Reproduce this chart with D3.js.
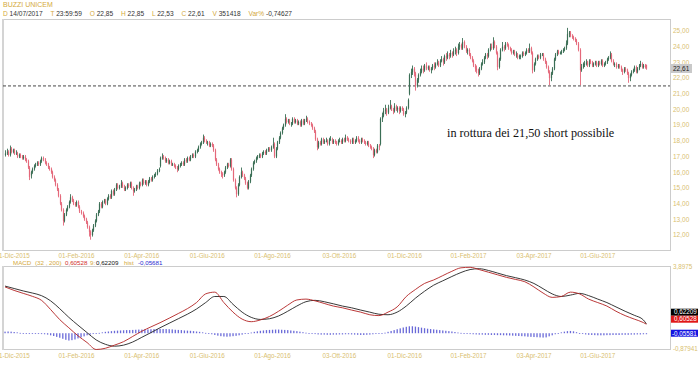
<!DOCTYPE html>
<html><head><meta charset="utf-8">
<script src="https://cdnjs.cloudflare.com/ajax/libs/d3/7.8.5/d3.min.js"></script>
<style>body{margin:0;background:#fff}svg{display:block;font-family:"Liberation Sans",Arial,sans-serif}</style>
</head><body><svg id="c" width="700" height="365"></svg>
<script>
const tickIndex=[5,47,90,133,176,220,263,305,348,390];
const tickLabels=["01-Dic-2015","01-Feb-2016","01-Apr-2016","01-Giu-2016","01-Ago-2016","03-Ott-2016","01-Dic-2016","01-Feb-2017","03-Apr-2017","01-Giu-2017"];
const priceTicks=[12,13,14,15,16,17,18,19,20,21,22,23,24,25];
const lastPrice=22.61, breakLevel=21.5;
const open=[17.1,17.2,17.3,17.1,17.5,17.3,17.4,17.2,17.2,17.0,
17.1,17.0,16.9,17.0,16.8,16.7,16.3,15.8,16.0,16.2,
16.4,16.5,16.6,16.5,16.7,16.9,16.8,16.6,16.5,16.3,
16.2,16.0,15.7,15.5,15.2,14.9,14.5,14.0,13.6,12.9,
13.3,13.6,13.8,14.1,14.4,14.2,14.0,13.9,14.1,13.8,
13.5,13.4,13.2,13.0,12.8,12.5,12.2,12.0,12.3,12.6,
12.9,13.3,13.5,14.0,13.8,14.1,14.2,14.0,14.3,14.5,
14.4,14.8,14.6,14.9,15.2,15.0,15.1,15.3,15.1,14.9,
15.0,15.2,15.1,15.3,15.0,14.8,14.9,15.1,15.0,15.3,
15.2,15.5,15.3,15.4,15.2,15.4,15.6,15.5,15.7,15.8,
15.9,16.1,16.4,16.9,17.0,16.9,16.7,16.8,16.6,16.7,
16.5,16.5,16.4,16.3,16.2,16.4,16.5,16.6,16.5,16.8,
16.7,16.9,16.8,17.0,17.1,17.0,17.3,17.4,17.6,17.8,
17.9,18.2,18.0,17.9,17.9,17.7,17.8,17.7,17.4,16.8,
16.5,16.2,16.0,15.9,15.8,16.0,16.3,16.5,16.4,16.8,
16.2,15.5,15.0,14.6,15.2,15.7,16.0,15.8,15.6,15.3,
15.0,15.4,15.8,16.2,16.6,16.7,16.9,17.0,17.1,17.0,
17.2,17.3,17.2,17.4,17.5,17.4,17.6,17.8,17.0,17.5,
17.9,18.2,18.5,18.8,19.0,19.4,19.2,19.3,19.1,19.1,
19.4,19.2,19.3,19.1,19.2,19.0,19.3,19.1,19.3,19.4,
19.2,19.1,19.0,18.8,18.6,18.1,17.6,17.9,17.8,18.1,
17.9,18.0,18.0,17.8,18.1,18.1,17.9,18.0,17.9,17.8,
18.0,18.0,17.9,18.1,18.0,18.2,18.1,18.0,17.9,18.1,
17.9,18.0,18.2,18.0,17.9,18.1,18.0,17.9,17.8,17.9,
17.7,17.6,17.5,17.1,17.4,17.3,17.7,17.8,19.4,19.6,
19.9,20.0,19.8,20.1,20.2,20.0,19.9,20.2,20.0,20.1,
19.9,20.1,20.0,19.7,19.8,20.1,21.0,22.2,22.4,22.6,
22.3,21.5,21.9,22.2,22.4,22.6,22.5,22.8,22.6,22.7,
22.5,22.6,22.8,22.7,22.9,23.0,22.8,23.1,23.2,23.0,
23.4,23.3,23.5,23.4,23.6,23.5,23.7,23.8,23.6,24.0,
24.1,23.9,24.3,24.0,23.7,23.8,23.5,23.3,23.1,22.8,
22.6,22.5,22.3,22.6,22.9,23.0,23.3,23.5,23.4,23.8,
24.0,23.9,24.3,24.0,23.6,22.7,23.2,23.8,24.0,23.9,
24.2,24.1,23.9,23.8,23.6,23.7,23.5,23.5,23.3,23.4,
23.4,23.6,23.5,23.6,23.8,23.7,23.9,23.6,22.5,22.9,
23.2,23.4,23.3,23.5,23.5,23.2,23.0,22.7,22.4,22.0,
22.3,22.6,23.2,23.5,23.7,23.6,23.6,23.7,23.8,23.9,
24.2,24.8,24.9,24.7,24.6,24.5,24.4,24.2,23.8,22.5,
22.7,22.9,22.9,23.0,22.8,23.1,23.0,22.8,22.9,23.0,
22.8,23.0,22.9,23.1,22.8,22.9,23.0,23.2,23.3,23.5,
23.1,22.9,22.9,22.7,22.8,22.7,22.5,22.4,22.6,22.5,
22.3,22.0,22.2,22.4,22.5,22.7,22.4,22.6,22.8,22.9,
22.7,22.8,22.85];
const high=[17.4,17.5,17.4,17.7,17.6,17.5,17.5,17.4,17.3,17.2,
17.2,17.1,17.1,17.1,16.9,16.8,16.4,16.1,16.3,16.5,
16.6,16.7,16.7,16.8,17.0,17.0,16.9,16.7,16.6,16.4,
16.3,16.1,15.8,15.6,15.3,15.0,14.6,14.1,13.7,13.4,
13.7,13.9,14.2,14.6,14.5,14.3,14.1,14.2,14.2,13.9,
13.6,13.5,13.3,13.1,12.9,12.6,12.3,12.4,12.7,13.0,
13.4,13.6,14.1,14.1,14.2,14.3,14.3,14.4,14.6,14.6,
14.9,14.9,15.0,15.3,15.3,15.2,15.5,15.4,15.2,15.1,
15.3,15.3,15.4,15.4,15.1,15.0,15.2,15.2,15.4,15.4,
15.6,15.6,15.5,15.5,15.5,15.7,15.7,15.8,15.9,16.0,
16.2,16.3,17.0,17.2,17.1,17.0,16.9,16.9,16.8,16.8,
16.6,16.6,16.5,16.4,16.5,16.6,16.7,16.7,16.9,16.9,
17.0,17.0,17.1,17.2,17.2,17.4,17.5,17.7,17.9,18.0,
18.4,18.3,18.1,18.0,18.0,17.9,17.9,17.8,17.5,16.9,
16.6,16.3,16.1,16.0,16.1,16.4,16.6,16.6,16.9,16.9,
16.3,15.6,15.1,15.3,15.8,16.3,16.1,15.9,15.7,15.4,
15.5,15.9,16.3,16.7,16.8,17.0,17.1,17.2,17.2,17.3,
17.4,17.4,17.5,17.6,17.6,17.7,18.2,17.9,17.6,18.0,
18.3,18.6,18.9,19.1,19.7,19.5,19.4,19.4,19.2,19.5,
19.5,19.4,19.4,19.3,19.3,19.4,19.4,19.4,19.6,19.5,
19.3,19.2,19.1,18.9,18.7,18.2,18.0,18.0,18.2,18.2,
18.1,18.2,18.1,18.2,18.3,18.2,18.1,18.1,18.0,18.1,
18.2,18.1,18.2,18.2,18.4,18.3,18.2,18.1,18.2,18.2,
18.1,18.3,18.3,18.1,18.2,18.2,18.1,18.0,18.0,18.0,
17.8,17.7,17.6,17.5,17.5,17.8,17.8,19.5,19.8,20.1,
20.3,20.1,20.3,20.6,20.3,20.1,20.4,20.3,20.2,20.2,
20.2,20.2,20.1,19.9,20.2,20.7,22.3,22.6,22.8,22.7,
22.4,22.0,22.3,22.6,22.8,22.8,22.9,23.0,22.8,22.8,
22.7,22.9,23.0,23.0,23.2,23.1,23.2,23.4,23.3,23.5,
23.6,23.7,23.6,23.8,23.7,23.9,24.0,23.9,24.2,24.3,
24.2,24.55,24.4,24.1,23.9,23.9,23.6,23.4,23.2,22.9,
22.8,22.6,22.7,23.0,23.2,23.4,23.6,23.6,23.9,24.2,
24.2,24.6,24.4,24.1,23.7,23.3,23.9,24.3,24.1,24.3,
24.3,24.2,24.0,23.9,23.8,23.8,23.7,23.6,23.5,23.5,
23.7,23.7,23.7,23.9,23.9,24.2,24.0,23.7,23.0,23.3,
23.5,23.5,23.6,23.6,23.6,23.3,23.1,22.8,22.5,22.4,
22.7,23.3,23.6,23.8,23.8,23.7,23.8,23.9,24.0,24.4,
25.2,25.0,25.0,24.8,24.7,24.6,24.5,24.3,23.9,22.9,
23.0,23.1,23.2,23.1,23.2,23.2,23.1,23.0,23.1,23.1,
23.1,23.1,23.2,23.2,23.0,23.1,23.3,23.4,23.7,23.6,
23.2,23.0,23.0,22.9,22.9,22.8,22.6,22.7,22.7,22.6,
22.4,22.3,22.5,22.6,22.8,22.8,22.7,22.9,23.1,23.0,
22.9,22.9,22.85];
const low=[17.0,17.1,17.0,17.0,17.2,17.2,17.1,17.1,16.9,16.9,
16.9,16.8,16.8,16.7,16.6,16.2,15.5,15.6,15.9,16.1,
16.3,16.4,16.4,16.4,16.6,16.7,16.5,16.4,16.2,16.1,
15.9,15.6,15.4,15.1,14.8,14.4,13.9,13.5,12.6,12.8,
13.2,13.5,13.7,14.0,14.1,13.9,13.8,13.8,13.7,13.4,
13.3,13.1,12.9,12.7,12.4,11.9,11.7,11.9,12.2,12.5,
12.8,13.2,13.4,13.7,13.7,14.0,13.9,13.9,14.2,14.3,
14.3,14.5,14.5,14.8,14.9,14.9,15.0,15.0,14.8,14.8,
14.9,15.0,15.0,14.9,14.5,14.7,14.8,14.9,14.9,15.1,
15.1,15.2,15.2,15.1,15.1,15.3,15.4,15.4,15.6,15.7,
15.8,16.0,16.3,16.8,16.8,16.6,16.6,16.5,16.5,16.4,
16.4,16.3,16.2,16.0,16.1,16.3,16.4,16.4,16.4,16.6,
16.6,16.7,16.7,16.9,16.9,16.9,17.2,17.3,17.5,17.7,
17.8,17.9,17.8,17.7,17.6,17.6,17.6,17.3,16.7,16.4,
16.1,15.9,15.7,15.6,15.7,15.9,16.2,16.3,16.3,16.1,
15.4,14.9,14.4,14.5,15.1,15.6,15.7,15.5,15.2,14.9,
14.9,15.3,15.7,16.1,16.5,16.6,16.8,16.9,16.9,16.9,
17.1,17.1,17.1,17.3,17.3,17.3,17.5,16.9,16.9,17.4,
17.8,18.1,18.4,18.7,18.9,19.1,19.1,19.0,18.9,19.0,
19.1,19.1,19.0,19.0,18.9,18.9,19.0,19.0,19.2,19.1,
19.0,18.9,18.7,18.5,18.0,17.4,17.5,17.7,17.7,17.8,
17.8,17.9,17.7,17.7,18.0,17.8,17.8,17.8,17.7,17.7,
17.9,17.8,17.8,17.9,17.9,18.0,17.9,17.8,17.8,17.8,
17.8,17.9,17.9,17.8,17.8,17.9,17.8,17.7,17.7,17.6,
17.5,17.4,16.9,17.0,17.2,17.2,17.4,17.7,19.2,19.5,
19.7,19.6,19.7,20.0,19.9,19.7,19.8,19.9,19.8,19.7,
19.8,19.9,19.6,19.5,19.7,20.0,20.9,22.0,22.2,22.1,
21.2,21.4,21.7,22.1,22.3,22.3,22.4,22.5,22.5,22.4,
22.3,22.5,22.5,22.6,22.8,22.7,22.7,23.0,22.8,22.9,
23.1,23.2,23.2,23.3,23.3,23.4,23.5,23.4,23.5,23.8,
23.8,23.8,23.9,23.6,23.5,23.4,23.2,23.0,22.7,22.4,
22.3,22.1,22.2,22.5,22.8,22.9,23.2,23.2,23.3,23.7,
23.8,23.8,23.9,23.5,22.5,22.6,23.1,23.7,23.7,23.8,
24.0,23.8,23.7,23.5,23.5,23.4,23.3,23.2,23.2,23.2,
23.3,23.4,23.4,23.5,23.6,23.6,23.5,22.3,22.4,22.8,
23.1,23.2,23.2,23.4,23.1,22.9,22.6,22.3,21.55,21.8,
22.2,22.5,23.1,23.4,23.5,23.5,23.5,23.6,23.7,23.8,
24.1,24.6,24.6,24.5,24.4,24.3,24.1,23.7,21.55,22.4,
22.6,22.7,22.8,22.7,22.7,22.9,22.7,22.7,22.8,22.7,
22.7,22.8,22.8,22.7,22.7,22.8,22.9,23.1,23.2,23.0,
22.8,22.7,22.6,22.6,22.6,22.4,22.2,22.3,22.4,22.2,
21.7,21.8,22.1,22.3,22.4,22.3,22.3,22.5,22.7,22.6,
22.6,22.6,22.53];
const close=[17.2,17.3,17.1,17.5,17.3,17.4,17.2,17.2,17.0,17.1,
17.0,16.9,17.0,16.8,16.7,16.3,15.7,16.0,16.2,16.4,
16.5,16.6,16.5,16.7,16.9,16.8,16.6,16.5,16.3,16.2,
16.0,15.7,15.5,15.2,14.9,14.5,14.0,13.6,12.9,13.3,
13.6,13.8,14.1,14.4,14.2,14.0,13.9,14.1,13.8,13.5,
13.4,13.2,13.0,12.8,12.5,12.2,12.0,12.3,12.6,12.9,
13.3,13.5,14.0,13.8,14.1,14.2,14.0,14.3,14.5,14.4,
14.8,14.6,14.9,15.2,15.0,15.1,15.3,15.1,14.9,15.0,
15.2,15.1,15.3,15.0,14.8,14.9,15.1,15.0,15.3,15.2,
15.5,15.3,15.4,15.2,15.4,15.6,15.5,15.7,15.8,15.9,
16.1,16.2,16.9,17.0,16.9,16.7,16.8,16.6,16.7,16.5,
16.5,16.4,16.3,16.2,16.4,16.5,16.6,16.5,16.8,16.7,
16.9,16.8,17.0,17.1,17.0,17.3,17.4,17.6,17.8,17.9,
18.2,18.0,17.9,17.9,17.7,17.8,17.7,17.4,16.8,16.5,
16.2,16.0,15.9,15.8,16.0,16.3,16.5,16.4,16.8,16.2,
15.5,15.0,14.6,15.2,15.7,16.0,15.8,15.6,15.3,15.0,
15.4,15.8,16.2,16.6,16.7,16.9,17.0,17.1,17.0,17.2,
17.3,17.2,17.4,17.5,17.4,17.6,17.8,17.0,17.5,17.9,
18.2,18.5,18.8,19.0,19.4,19.2,19.3,19.1,19.1,19.4,
19.2,19.3,19.1,19.2,19.0,19.3,19.1,19.3,19.4,19.2,
19.1,19.0,18.8,18.6,18.1,17.6,17.9,17.8,18.1,17.9,
18.0,18.0,17.8,18.1,18.1,17.9,18.0,17.9,17.8,18.0,
18.0,17.9,18.1,18.0,18.2,18.1,18.0,17.9,18.1,17.9,
18.0,18.2,18.0,17.9,18.1,18.0,17.9,17.8,17.9,17.7,
17.6,17.5,17.1,17.4,17.3,17.7,17.6,19.4,19.6,19.9,
20.0,19.8,20.1,20.2,20.0,19.9,20.2,20.0,20.1,19.9,
20.1,20.0,19.7,19.8,20.1,20.6,22.2,22.4,22.6,22.3,
21.5,21.9,22.2,22.4,22.6,22.5,22.8,22.6,22.7,22.5,
22.6,22.8,22.7,22.9,23.0,22.8,23.1,23.2,23.0,23.4,
23.3,23.5,23.4,23.6,23.5,23.7,23.8,23.6,24.0,24.1,
23.9,24.3,24.0,23.7,23.8,23.5,23.3,23.1,22.8,22.6,
22.5,22.3,22.6,22.9,23.0,23.3,23.5,23.4,23.8,24.0,
23.9,24.3,24.0,23.6,22.7,23.2,23.8,24.0,23.9,24.2,
24.1,23.9,23.8,23.6,23.7,23.5,23.5,23.3,23.4,23.4,
23.6,23.5,23.6,23.8,23.7,23.9,23.6,22.5,22.9,23.2,
23.4,23.3,23.5,23.5,23.2,23.0,22.7,22.4,22.0,22.3,
22.6,23.2,23.5,23.7,23.6,23.6,23.7,23.8,23.9,24.2,
24.8,24.9,24.7,24.6,24.5,24.4,24.2,23.8,22.5,22.7,
22.9,22.9,23.0,22.8,23.1,23.0,22.8,22.9,23.0,22.8,
23.0,22.9,23.1,22.8,22.9,23.0,23.2,23.3,23.5,23.1,
22.9,22.9,22.7,22.8,22.7,22.5,22.4,22.6,22.5,22.3,
22.0,22.2,22.4,22.5,22.7,22.4,22.6,22.8,22.9,22.7,
22.8,22.7,22.61];
// MACD(32,200) and signal, one value every 6 sessions (last = final session)
const macd=[2.75,2.55,2.38,2.21,1.98,1.45,0.87,0.40,-0.06,-0.45,-0.85,-0.78,
-0.60,-0.40,-0.10,0.20,0.45,0.69,0.95,1.22,1.50,1.85,2.35,2.45,
1.85,1.30,0.90,0.75,0.85,1.05,1.35,1.70,2.00,2.05,1.95,1.80,
1.65,1.55,1.42,1.30,1.15,1.10,1.30,1.60,2.20,2.60,2.95,3.15,
3.40,3.65,3.85,3.88,3.75,3.60,3.45,3.30,3.18,3.05,2.75,2.40,
2.15,2.20,2.45,2.35,2.05,1.85,1.65,1.35,1.10,0.90,0.70,0.60528];
const signal=[2.80,2.66,2.52,2.40,2.25,1.95,1.50,1.00,0.55,0.12,-0.30,-0.55,
-0.66,-0.60,-0.42,-0.15,0.12,0.40,0.66,0.92,1.18,1.48,1.85,2.20,
2.20,1.75,1.30,1.00,0.88,0.92,1.08,1.35,1.65,1.90,1.98,1.90,
1.78,1.65,1.55,1.42,1.30,1.18,1.15,1.30,1.65,2.10,2.50,2.85,
3.10,3.35,3.58,3.75,3.80,3.70,3.55,3.40,3.28,3.15,2.95,2.65,
2.35,2.20,2.28,2.38,2.25,2.05,1.85,1.60,1.35,1.12,0.85,0.62209];
// histogram, one bar every 2 sessions
const hist=[0.09,0.10,0.09,0.07,0.05,
0.02,0.0,-0.02,-0.03,-0.03,-0.04,-0.04,-0.05,-0.06,
-0.08,-0.12,-0.16,-0.21,-0.26,
-0.32,-0.38,-0.42,-0.40,-0.36,-0.30,-0.24,
-0.18,-0.12,-0.08,-0.04,-0.01,0.02,
0.05,0.08,0.10,0.12,0.14,0.15,0.16,0.17,0.18,0.18,0.19,0.20,0.21,0.21,0.22,0.22,0.23,0.24,0.24,0.25,0.24,0.24,0.23,0.22,0.20,0.19,0.18,0.16,0.15,0.14,0.12,0.10,0.08,
0.05,0.02,-0.02,-0.06,-0.10,
-0.14,-0.17,-0.19,-0.20,-0.19,-0.17,-0.15,-0.12,-0.08,-0.04,0.0,
0.04,0.08,0.11,0.14,0.16,0.18,0.19,0.20,0.21,0.21,0.20,0.19,0.18,0.16,0.14,0.12,0.09,0.06,0.03,0.0,
-0.03,-0.05,-0.07,-0.08,-0.08,-0.09,-0.09,-0.08,-0.08,-0.07,-0.07,-0.06,-0.06,-0.07,-0.08,-0.09,-0.10,-0.10,-0.09,-0.08,-0.06,-0.04,-0.02,0.0,0.03,
0.08,0.13,0.18,0.23,0.28,0.33,0.37,0.40,0.40,0.38,0.35,0.32,0.29,
0.26,0.24,0.22,0.20,0.18,0.16,0.14,0.12,0.10,0.07,0.04,0.02,
-0.01,-0.03,-0.05,-0.06,-0.07,-0.08,-0.08,-0.09,-0.09,-0.10,-0.10,-0.11,-0.11,-0.12,-0.12,-0.13,-0.14,-0.15,-0.16,-0.17,-0.18,-0.20,-0.21,-0.22,-0.23,-0.24,-0.25,
-0.24,-0.18,-0.12,-0.06,0.0,0.05,0.09,
0.12,0.13,0.11,0.06,0.01,
-0.04,-0.07,-0.09,-0.10,-0.11,-0.12,-0.12,-0.12,-0.11,-0.11,-0.10,-0.10,-0.10,-0.09,-0.09,-0.09,-0.08,-0.08,-0.07,-0.07,-0.06,-0.05681];
const macdRange=[-0.87941,3.8975];
const headerItems=[["D","14/07/2017"],["T","23:59:59"],["O","22,85"],["H","22,85"],["L","22,53"],["C","22,61"],["V","351418"],["Var%","-0,74627"]];
const macdHeader=[["MACD","g"],["(32 , 200)","g"],["0,60528","r"],["9:","g"],["0,62209","k"],["hist","g"],["-0,05681","b"]];

const svg=d3.select("#c");
const GOLD="#d4a93c", AX="#d9c070", GRID="#cccccc";
const N=close.length;
const x=d3.scaleLinear().domain([0,N-1]).range([5,646.4]);
const y=d3.scaleLinear().domain([12,25]).range([235,31]);
const ym=d3.scaleLinear().domain(macdRange).range([350,267]);
const fmt2=v=>d3.format(".2f")(v).replace(".",",");

// header
svg.append("text").attr("x",3).attr("y",7).attr("font-size",7).attr("fill",GOLD).text("BUZZI UNICEM");
{
  const g=svg.append("g").attr("font-size",6.6);
  let cx=3;
  headerItems.forEach(d=>{
    const t=g.append("text").attr("x",cx).attr("y",15.5);
    t.append("tspan").attr("fill",GOLD).text(d[0]+" ");
    t.append("tspan").attr("fill","#333").text(d[1]);
    const bb=t.node().getBBox();
    cx=bb.x+bb.width+7.5;
  });
}

// top panel frame
svg.append("rect").attr("x",3.5).attr("y",19.5).attr("width",667).attr("height",231).attr("fill","none").attr("stroke",GRID).attr("stroke-width",1);
svg.append("line").attr("x1",3).attr("x2",3).attr("y1",19).attr("y2",251).attr("stroke","#d4d4d4").attr("stroke-width",2);

// dashed break level
svg.append("line").attr("x1",3).attr("x2",670).attr("y1",y(breakLevel)).attr("y2",y(breakLevel))
 .attr("stroke","#333").attr("stroke-dasharray","3,2").attr("stroke-width",0.9);

// candles
const UP="#3a6e55", DN="#e4687a";
const cg=svg.append("g");
d3.range(N).forEach(i=>{
  const col=close[i]>=open[i]?UP:DN;
  const cx=Math.round(x(i))+0.5;
  cg.append("line").attr("x1",cx).attr("x2",cx).attr("y1",y(high[i])).attr("y2",y(low[i])).attr("stroke",col).attr("stroke-width",0.9);
  const y0=y(Math.max(open[i],close[i])), y1=y(Math.min(open[i],close[i]));
  cg.append("rect").attr("x",cx-0.6).attr("width",1.2).attr("y",y0).attr("height",Math.max(0.8,y1-y0)).attr("fill",col);
});

// right price axis
const ra=svg.append("g").attr("font-size",6.5).attr("fill",AX);
priceTicks.forEach(v=>{
  ra.append("text").attr("x",673).attr("y",y(v)+2.3).text(fmt2(v));
});
svg.append("rect").attr("x",671).attr("y",y(lastPrice)-4.5).attr("width",21).attr("height",9).attr("fill","#c9c9c9");
svg.append("text").attr("x",673).attr("y",y(lastPrice)+2.3).attr("font-size",6.5).attr("fill","#222").text(fmt2(lastPrice));

// annotation
svg.append("text").attr("x",447).attr("y",137).attr("font-family","'Liberation Serif','Times New Roman',serif")
 .attr("font-size",12.2).attr("fill","#111").text("in rottura dei 21,50 short possibile");

// x labels (both panels)
[257.5,358].forEach(yy=>{
  const g=svg.append("g").attr("font-size",6.3).attr("fill",AX).attr("text-anchor","middle");
  tickIndex.forEach((ti,k)=>g.append("text").attr("x",x(ti)).attr("y",yy).text(tickLabels[k]));
});

// MACD header
{
  const cols={g:GOLD,r:"#d02a2a",k:"#111",b:"#2a2ad0"};
  const xs=[13,35,65,90,96,124,138];
  const g=svg.append("g").attr("font-size",6.2);
  macdHeader.forEach((d,i)=>g.append("text").attr("x",xs[i]).attr("y",264.5).attr("fill",cols[d[1]]).text(d[0]));
}

// MACD panel frame
svg.append("rect").attr("x",3.5).attr("y",266.5).attr("width",667).attr("height",83).attr("fill","none").attr("stroke",GRID);
svg.append("line").attr("x1",3).attr("x2",3).attr("y1",266).attr("y2",350).attr("stroke","#d4d4d4").attr("stroke-width",2);

// histogram
const hg=svg.append("g");
hist.forEach((v,j)=>{
  const i=Math.min(j*2,N-1);
  const a=ym(0)-1.5, b=a-(ym(0)-ym(v));
  hg.append("rect").attr("x",x(i)-0.6).attr("width",1.3).attr("y",Math.min(a,b)).attr("height",Math.max(0.8,Math.abs(a-b))).attr("fill","#6a6ad8");
});

// lines
const mIdx=d3.range(0,N-2,6).concat([N-1]);
const line=d3.line().x((d,k)=>x(mIdx[k])).y(d=>ym(d)).curve(d3.curveMonotoneX);
svg.append("path").attr("d",line(signal)).attr("fill","none").attr("stroke","#222").attr("stroke-width",0.9);
svg.append("path").attr("d",line(macd)).attr("fill","none").attr("stroke","#b22222").attr("stroke-width",0.9);

// MACD right labels
const mr=svg.append("g").attr("font-size",6.3);
mr.append("text").attr("x",673).attr("y",269).attr("fill",AX).text("3,8975");
mr.append("text").attr("x",673).attr("y",351).attr("fill",AX).text("-0,87941");
const lastM=macd[macd.length-1];
[["#000","0,62209",-12],["#e01818","0,60528",-5]].forEach(d=>{
  const cy=ym(lastM)+d[2];
  mr.append("rect").attr("x",671).attr("y",cy-3.5).attr("width",27).attr("height",7).attr("fill",d[0]);
  mr.append("text").attr("x",674).attr("y",cy+2.2).attr("fill","#fff").text(d[1]);
});
mr.append("rect").attr("x",671).attr("y",ym(0)-5).attr("width",27).attr("height",7).attr("fill","#1414e0");
mr.append("text").attr("x",672).attr("y",ym(0)+0.8).attr("fill","#fff").text("-0,05581");
</script></body></html>
